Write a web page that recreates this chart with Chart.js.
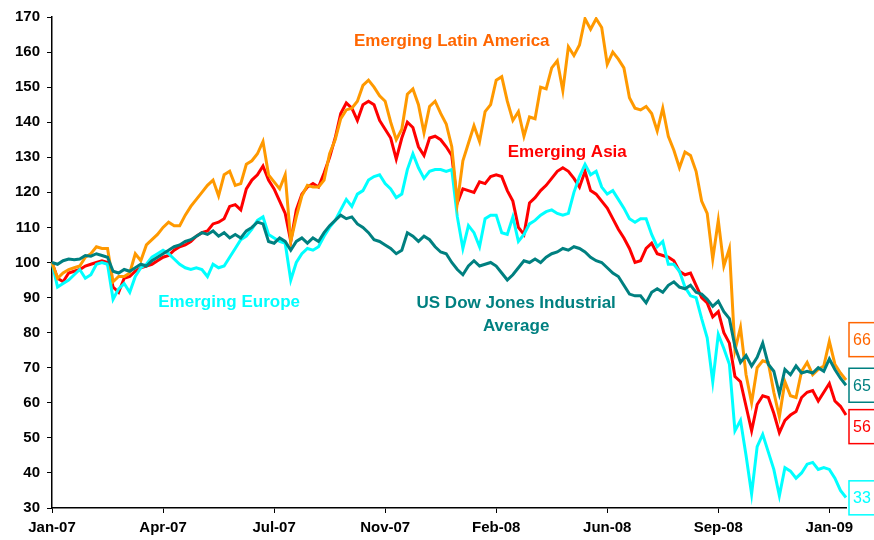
<!DOCTYPE html>
<html>
<head>
<title>Emerging markets vs Dow Jones</title>
<script src="https://cdn.jsdelivr.net/npm/chart.js@4.4.1/dist/chart.umd.min.js"></script>
<style>
  body { margin: 0; background: #fff; }
  canvas { display: block; }
</style>
</head>
<body>
<canvas id="lineChart" width="874" height="540"></canvas>
<script>
// tick labels shown every 20 points on the category axis
const tickLabels = ["Jan-07", "Apr-07", "Jul-07", "Nov-07", "Feb-08", "Jun-08", "Sep-08", "Jan-09"];

const latinAmerica = [
  100, 95.5, 97, 98, 98.5, 99, 101.5, 102.5, 104.5, 104,
  104, 94.5, 96, 96, 97, 102.5, 100.5, 105, 106.5, 108,
  110, 111.5, 110.5, 110.5, 113.5, 116, 118, 120, 122, 123.5,
  119, 125, 126, 122, 122.5, 128, 129, 131, 134.5, 125,
  123, 121, 125, 106, 113, 119, 122, 121.5, 121.5, 123.5,
  131, 135, 141, 143.5, 144, 146, 150.5, 152, 150, 147.5,
  146, 140, 135, 138, 148, 149.5, 145, 137, 144.5, 146,
  142.5, 139.5, 133, 117, 129, 134, 139, 134.5, 143, 145,
  152, 153, 146, 140.5, 143, 136, 141.5, 141, 150, 149.5,
  155.5, 157.5, 149, 161.5, 159, 162, 169.5, 166.5, 169.5, 167,
  156.5, 160, 158, 155.5, 147, 144, 143.5, 144.5, 142.5, 137.5,
  144, 136, 132, 127, 131.5, 130.5, 126, 117.5, 114, 101,
  112, 99, 104, 75, 81.5, 68, 60, 70, 72, 71.5,
  63, 56, 66, 62, 61.5, 69, 71.5, 68, 69.5, 70.5,
  77.5, 71, 68.5, 66.5
];

const asia = [
  100, 95.5, 94.5, 97, 97.5, 98, 99, 99.5, 100, 100.5,
  100, 93, 91.5, 95.5, 96, 97.5, 98.5, 99, 99.5, 100.5,
  101.5, 102, 103.5, 104.5, 105, 106, 107.5, 108.5, 109, 111,
  111.5, 112.5, 116, 116.5, 115, 121, 123.5, 125, 127.5, 123.5,
  121, 117.5, 114, 106, 115, 119.5, 121.5, 122.5, 121.5, 125.5,
  130, 135.5, 142.5, 145.5, 144, 140.5, 145, 146, 145, 140.5,
  138, 135.5, 129.5, 135.5, 140, 138.5, 133, 130.5, 135.5, 136,
  135, 133, 130.5, 117, 121, 120.5, 120, 123, 122.5, 124.5,
  125, 124.5, 120.5, 117.5, 110, 108, 117, 118.5, 120.5, 122,
  124, 126, 127, 126, 124, 121.5, 126, 120.5, 119.5, 117.5,
  115.5, 112.5, 109.5, 107, 104, 100, 100.5, 104, 105.5, 102.5,
  102, 101.5, 100.5, 97.5, 96.5, 97, 93.5, 90, 88.5, 84.5,
  86, 80, 77, 67.5, 66, 59, 52, 59.5, 62, 61.5,
  57, 51.5, 55, 56.5, 57.5, 61.5, 63, 63.5, 60.5, 63,
  65.5, 60.5, 59, 56.5
];

const europe = [
  100, 93, 94, 95, 96.5, 98, 95.5, 96.5, 99.5, 100,
  99.5, 89.5, 92.5, 94, 91.5, 96, 98.5, 99.5, 101.5, 102.5,
  103.5, 102.5, 101, 99.5, 98.5, 98, 98.5, 98, 96, 99.5,
  98.5, 99, 101.5, 104, 106.5, 107.5, 109.5, 112, 113, 108,
  107, 106, 105.5, 95, 100, 102.5, 104, 103.5, 104.5, 107.5,
  110, 112, 115, 118, 116, 119.5, 120.5, 123.5, 124.5, 125,
  122.5, 121, 118.5, 119.5, 126.5, 131, 127, 124, 126, 126.5,
  126.5, 126, 126.5, 113, 104, 110.5, 108.5, 104.5, 112.5, 113.5,
  113.5, 108.5, 108, 113, 106, 108, 111, 112, 113.5, 114.5,
  115, 114, 113.5, 114, 120, 124.5, 128, 125, 126, 121.5,
  119.5, 120.5, 118, 115.5, 112.5, 111.5, 112.5, 112.5, 108, 104.5,
  106, 99.5, 99.5, 97.5, 93, 90.5, 90, 84, 78.5, 66,
  79.5, 75.5, 71, 52, 55, 45, 34, 47.5, 51, 46,
  41, 33.5, 41.5, 40.5, 38.5, 40, 42.5, 43, 41, 41.5,
  41, 38.5, 35, 33
];

const dowJones = [
  100, 99.5, 100.5, 101, 100.8, 101, 102, 101.8, 102.5, 102,
  101.5, 97.5, 97, 98, 97.5, 98.5, 99.5, 99, 100.5, 101.5,
  102.5, 103.5, 104.5, 105, 106, 106.5, 107.5, 108.5, 108, 109,
  107.5, 108.5, 107, 108, 107, 109, 110, 111.5, 111, 106,
  105.5, 107, 106, 103.5, 106, 107, 105.5, 107, 106, 108.5,
  110.5, 112, 113.5, 112.5, 113, 111, 110, 108.5, 106.5, 106,
  105, 104, 102.5, 103.5, 108.5, 107.5, 106, 107.5, 106.5, 104.5,
  103, 102.5, 100, 98, 96.5, 99, 100.5, 99, 99.5, 100,
  99, 97, 95, 96.5, 98.5, 100.5, 100, 101, 100, 101.5,
  102.5, 103, 104, 103.5, 104.5, 104, 103, 101.5, 100.5, 100,
  98.5, 97, 96, 93.5, 91, 90.5, 90.5, 88.5, 91.5, 92.5,
  91.5, 93.5, 94.5, 93, 92.5, 93.5, 91.5, 91, 89.5, 87.5,
  89, 86, 84, 76, 71.5, 73.5, 70.5, 73, 77, 71,
  69, 62.5, 69.5, 68, 70.5, 68.5, 69, 68.5, 70, 69,
  72.5, 69.5, 67, 65
];

// last values shown in the boxes at the right edge
const endValues = [66, 65, 56, 33];

const labels = latinAmerica.map((v, i) => (i % 20 === 0 ? tickLabels[i / 20] : ""));

const FONT = '"Liberation Sans", Arial, sans-serif';

const notes = [
  { text: "Emerging Latin America", color: "#FF6600", i: 72, v: 163.2 },
  { text: "Emerging Asia", color: "#FF0000", i: 92.8, v: 131.3 },
  { text: "Emerging Europe", color: "#00FFFF", i: 31.9, v: 88.6 },
  { text: "US Dow Jones Industrial", color: "#008080", i: 83.6, v: 88.4 },
  { text: "Average", color: "#008080", i: 83.6, v: 81.8 }
];

const endBoxes = [
  { value: endValues[0], color: "#FF6600", at: 78 },
  { value: endValues[1], color: "#008080", at: 65 },
  { value: endValues[2], color: "#FF0000", at: 53.2 },
  { value: endValues[3], color: "#00FFFF", at: 32.9 }
];

const notesPlugin = {
  id: "notes",
  afterDraw(chart) {
    const { ctx, chartArea } = chart;
    const x = chart.scales.x, y = chart.scales.y;
    ctx.save();
    ctx.font = "bold 17px " + FONT;
    ctx.textAlign = "center";
    ctx.textBaseline = "middle";
    notes.forEach(n => {
      ctx.fillStyle = n.color;
      ctx.fillText(n.text, x.getPixelForValue(n.i), y.getPixelForValue(n.v));
    });
    ctx.font = "16px " + FONT;
    ctx.textAlign = "left";
    endBoxes.forEach(b => {
      const cy = y.getPixelForValue(b.at);
      const left = chartArea.right + 3;
      ctx.strokeStyle = b.color;
      ctx.lineWidth = 1.5;
      ctx.strokeRect(left, cy - 17, 40, 34);
      ctx.fillStyle = b.color;
      ctx.fillText(String(b.value), left + 4, cy + 1);
    });
    ctx.restore();
  }
};

const line = (data, color) => ({
  data: data,
  borderColor: color,
  borderWidth: 3,
  pointRadius: 0,
  tension: 0,
  fill: false
});

new Chart(document.getElementById("lineChart"), {
  type: "line",
  data: {
    labels: labels,
    datasets: [
      line(dowJones, "#008080"),
      line(latinAmerica, "#FF9900"),
      line(europe, "#00FFFF"),
      line(asia, "#FF0000")
    ]
  },
  options: {
    responsive: false,
    animation: false,
    layout: { padding: { top: 17, right: 28, left: 0, bottom: 0 } },
    plugins: { legend: { display: false }, tooltip: { enabled: false } },
    scales: {
      x: {
        offset: false,
        grid: {
          drawOnChartArea: false,
          tickLength: 5,
          color: c => (c.index % 20 === 0 ? "#000" : "rgba(0,0,0,0)")
        },
        border: { color: "#000", width: 1.5 },
        ticks: {
          autoSkip: false,
          maxRotation: 0,
          minRotation: 0,
          padding: 6,
          color: "#000",
          font: { family: FONT, size: 15, weight: "bold" },
          callback: (v, i) => labels[i]
        },
        afterFit: s => { s.height = 32; }
      },
      y: {
        min: 30,
        max: 170,
        grid: { drawOnChartArea: false, tickLength: 5, color: "#000" },
        border: { color: "#000", width: 1.5 },
        ticks: {
          stepSize: 10,
          padding: 7,
          color: "#000",
          font: { family: FONT, size: 15, weight: "bold" }
        },
        afterFit: s => { s.width = 52; }
      }
    }
  },
  plugins: [notesPlugin]
});
</script>
</body>
</html>
